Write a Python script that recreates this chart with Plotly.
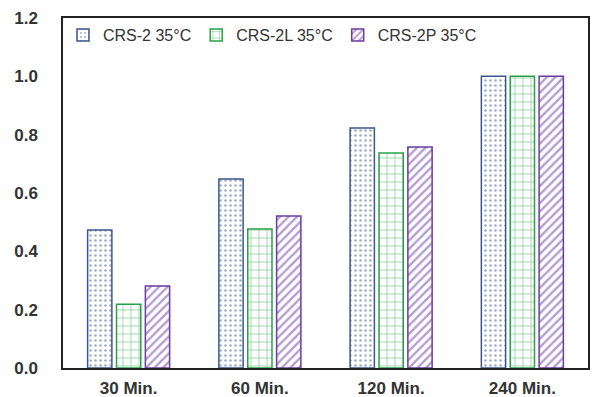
import plotly.graph_objects as go

categories = ["30 Min.", "60 Min.", "120 Min.", "240 Min."]
series_names = ["CRS-2 35°C", "CRS-2L 35°C", "CRS-2P 35°C"]
crs2 = [0.473, 0.648, 0.823, 1.0]
crs2l = [0.219, 0.477, 0.737, 1.0]
crs2p = [0.281, 0.521, 0.758, 1.0]
y_ticks = [0.0, 0.2, 0.4, 0.6, 0.8, 1.0, 1.2]

colors = ["#3A5888", "#27A24A", "#6A3C9E"]
patterns = [
    dict(shape=".", size=5, solidity=0.2),
    dict(shape="+", size=8, solidity=0.2),
    dict(shape="/", size=6, solidity=0.4),
]
values = [crs2, crs2l, crs2p]

fig = go.Figure()
for name, vals, col, pat in zip(series_names, values, colors, patterns):
    fig.add_trace(go.Bar(
        x=categories, y=vals, name=name,
        marker=dict(
            color="white",
            line=dict(color=col, width=1.5),
            pattern=dict(fgcolor=col, bgcolor="white", fillmode="overlay", **pat),
        ),
    ))

fig.update_layout(
    width=594, height=397,
    margin=dict(l=63, r=6, t=18, b=29),
    paper_bgcolor="white", plot_bgcolor="white",
    barmode="group", bargap=0.34, bargroupgap=0.16,
    font=dict(family="Liberation Sans, Arial, sans-serif", color="#333333"),
    showlegend=True,
    legend=dict(orientation="h", x=0.0, y=1.0, xanchor="left", yanchor="top",
                font=dict(size=16, color="#333333"), bgcolor="rgba(0,0,0,0)",
                itemwidth=30, tracegroupgap=0),
    xaxis=dict(showline=True, linecolor="#222222", linewidth=1.5, mirror=True,
               ticks="", ticklabelstandoff=4, automargin=False,
               tickfont=dict(size=17, color="#333333", weight="bold"),
               showgrid=False),
    yaxis=dict(range=[0, 1.2], tickvals=y_ticks, tickformat=".1f",
               showline=True, linecolor="#222222", linewidth=1.5, mirror=True,
               ticks="", ticklabelstandoff=20, automargin=False,
               tickfont=dict(size=17, color="#333333", weight="bold"),
               showgrid=False, zeroline=False),
)

fig.write_html("out.html")
